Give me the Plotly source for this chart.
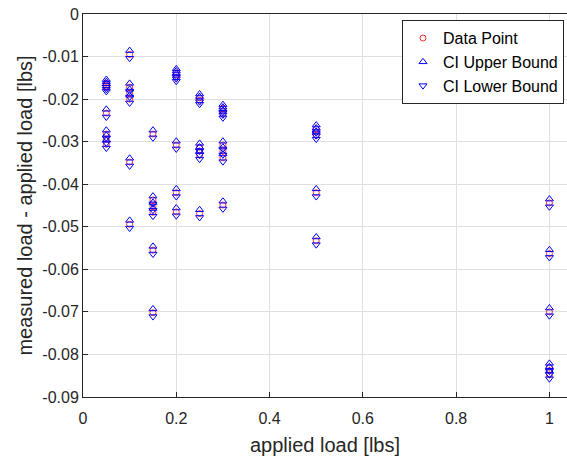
import plotly.graph_objects as go

# Applied load [lbs] for each measurement
applied_load = [
    0.05, 0.05, 0.05, 0.05, 0.05, 0.05, 0.05,
    0.10, 0.10, 0.10, 0.10, 0.10, 0.10,
    0.15, 0.15, 0.15, 0.15, 0.15, 0.15,
    0.20, 0.20, 0.20, 0.20, 0.20, 0.20,
    0.25, 0.25, 0.25, 0.25, 0.25, 0.25,
    0.30, 0.30, 0.30, 0.30, 0.30, 0.30, 0.30,
    0.50, 0.50, 0.50, 0.50, 0.50,
    1.00, 1.00, 1.00, 1.00, 1.00, 1.00,
]

# Measured load minus applied load [lbs]
load_error = [
    -0.0163, -0.0168, -0.0173, -0.0233, -0.0282, -0.0294, -0.0306,
    -0.0095, -0.0172, -0.0186, -0.0200, -0.0348, -0.0494,
    -0.0282, -0.0437, -0.0452, -0.0466, -0.0555, -0.0702,
    -0.0138, -0.0143, -0.0149, -0.0308, -0.0420, -0.0465,
    -0.0197, -0.0203, -0.0313, -0.0322, -0.0332, -0.0469,
    -0.0222, -0.0228, -0.0235, -0.0308, -0.0322, -0.0338, -0.0449,
    -0.0270, -0.0277, -0.0285, -0.0420, -0.0533,
    -0.0444, -0.0563, -0.0700, -0.0830, -0.0838, -0.0848,
]

# Confidence interval bounds for each measurement
ci_upper = [
    -0.0154, -0.0159, -0.0164, -0.0224, -0.0273, -0.0285, -0.0297,
    -0.0086, -0.0163, -0.0177, -0.0191, -0.0339, -0.0485,
    -0.0273, -0.0428, -0.0443, -0.0457, -0.0546, -0.0693,
    -0.0129, -0.0134, -0.0140, -0.0299, -0.0411, -0.0456,
    -0.0188, -0.0194, -0.0304, -0.0313, -0.0323, -0.0460,
    -0.0213, -0.0219, -0.0226, -0.0299, -0.0313, -0.0329, -0.0440,
    -0.0261, -0.0268, -0.0276, -0.0411, -0.0524,
    -0.0435, -0.0554, -0.0691, -0.0821, -0.0829, -0.0839,
]
ci_lower = [
    -0.0172, -0.0177, -0.0182, -0.0242, -0.0291, -0.0303, -0.0315,
    -0.0104, -0.0181, -0.0195, -0.0209, -0.0357, -0.0503,
    -0.0291, -0.0446, -0.0461, -0.0475, -0.0564, -0.0711,
    -0.0147, -0.0152, -0.0158, -0.0317, -0.0429, -0.0474,
    -0.0206, -0.0212, -0.0322, -0.0331, -0.0341, -0.0478,
    -0.0231, -0.0237, -0.0244, -0.0317, -0.0331, -0.0347, -0.0458,
    -0.0279, -0.0286, -0.0294, -0.0429, -0.0542,
    -0.0453, -0.0572, -0.0709, -0.0839, -0.0847, -0.0857,
]

x_ticks = [0, 0.2, 0.4, 0.6, 0.8, 1]
x_tick_text = ["0", "0.2", "0.4", "0.6", "0.8", "1"]
y_ticks = [0, -0.01, -0.02, -0.03, -0.04, -0.05, -0.06, -0.07, -0.08, -0.09]
y_tick_text = ["0", "-0.01", "-0.02", "-0.03", "-0.04", "-0.05", "-0.06", "-0.07", "-0.08", "-0.09"]

FONT = "Liberation Sans, Arial, Helvetica, sans-serif"
INK = "#262626"
GRID = "#dfdfdf"

fig = go.Figure()
fig.add_trace(go.Scatter(
    x=applied_load, y=load_error, mode="markers", name="Data Point",
    marker=dict(symbol="circle-open", size=6, color="#ff0000",
                line=dict(width=0.8, color="#ff0000")),
))
fig.add_trace(go.Scatter(
    x=applied_load, y=ci_upper, mode="markers", name="CI Upper Bound",
    marker=dict(symbol="triangle-up-open", size=7, color="#0000ff",
                line=dict(width=1, color="#0000ff")),
))
fig.add_trace(go.Scatter(
    x=applied_load, y=ci_lower, mode="markers", name="CI Lower Bound",
    marker=dict(symbol="triangle-down-open", size=7, color="#0000ff",
                line=dict(width=1, color="#0000ff")),
))

axis_common = dict(
    showgrid=True, gridcolor=GRID, gridwidth=1,
    showline=True, linecolor=INK, linewidth=1,
    ticks="inside", ticklen=5, tickcolor=INK, tickwidth=1,
    tickfont=dict(family=FONT, size=16, color=INK),
    zeroline=False,
)

fig.update_layout(
    width=567, height=458,
    margin=dict(l=83, r=0, t=14, b=61),
    paper_bgcolor="white", plot_bgcolor="white",
    font=dict(family=FONT, color=INK),
    xaxis=dict(
        range=[0, 1.0377], tickvals=x_ticks, ticktext=x_tick_text,
        mirror=True, ticklabelstandoff=7,
        title=dict(text="applied load [lbs]", font=dict(family=FONT, size=20, color=INK), standoff=11),
        **axis_common,
    ),
    yaxis=dict(
        range=[-0.09, 0], tickvals=y_ticks, ticktext=y_tick_text,
        title=dict(text="measured load - applied load [lbs]", font=dict(family=FONT, size=20, color=INK), standoff=4),
        **axis_common,
    ),
    legend=dict(
        x=0.9938, y=0.984, xanchor="right", yanchor="top",
        bgcolor="white", bordercolor=INK, borderwidth=1,
        font=dict(family=FONT, size=16, color="#000000"),
        tracegroupgap=0, itemsizing="trace",
    ),
    showlegend=True,
)

fig.write_html("out.html")
